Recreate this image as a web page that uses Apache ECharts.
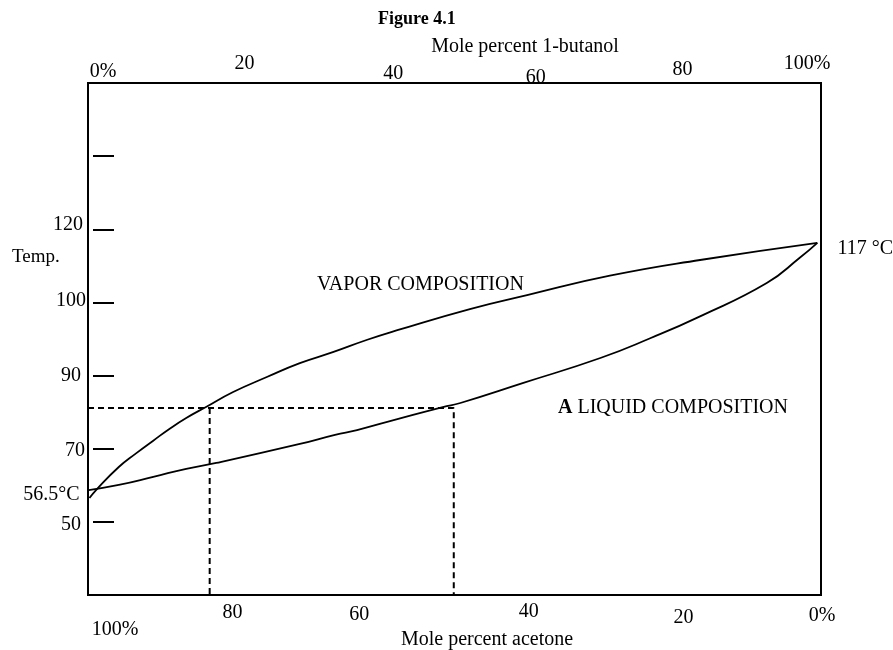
<!DOCTYPE html>
<html>
<head>
<meta charset="utf-8">
<script src="https://cdn.jsdelivr.net/npm/echarts@6.0.0/dist/echarts.min.js"></script>
<style>
html, body { margin: 0; padding: 0; background: #fff; }
#chart { width: 893px; height: 650px; }
</style>
</head>
<body>
<div id="chart"></div>
<script>
// ---------- data ----------
const butanolTicks = [0, 20, 40, 60, 80, 100];
const butanolTickLabels = ['0%', '20', '40', '60', '80', '100%'];
const acetoneTicks = [100, 80, 60, 40, 20, 0];
const acetoneTickLabels = ['100%', '80', '60', '40', '20', '0%'];
const tempTickValues = [50, 70, 90, 100, 120];
const tempTickLabels = ['50', '70', '90', '100', '120'];

// vapor composition curve (mole % 1-butanol, °C)
const vaporButanol = [0.2, 1.1, 4.2, 6.6, 8.9, 11.1, 13.4, 16.1, 19.8, 24.4, 28.9, 33.4, 38.1, 42.2, 52.1, 59.9, 71.2, 83.5, 99.5];
const vaporTemp    = [56.5, 58.7, 65.0, 68.8, 72.2, 75.4, 78.4, 81.4, 85.5, 89.6, 91.7, 93.2, 94.9, 96.2, 99.1, 102.0, 107.3, 111.6, 116.3];

// liquid composition curve (mole % 1-butanol, °C)
const liquidButanol = [0.1, 4.2, 8.9, 13.4, 17.5, 28.9, 33.7, 36.7, 42.2, 48.4, 50.8, 59.4, 69.9, 76.7, 83.5, 92.6, 97.1, 99.5];
const liquidTemp    = [58.7, 60.1, 62.3, 64.5, 66.1, 71.3, 73.8, 75.1, 78.1, 81.4, 82.5, 88.0, 92.4, 95.1, 98.1, 105.3, 112.2, 116.3];

// boiling points of the pure components
const boilingButanol = [0, 100];
const boilingTemp = [56.5, 117];
const boilingLabels = ['56.5°C', '117 °C'];

// dashed tie line
const tieTemp = 81.1;
const tieVaporButanol = 16.6;
const tieLiquidButanol = 49.9;

// ---------- temperature scale: evenly spaced ticks, uneven labels ----------
const tempTickLevels = tempTickValues.map((_, i) => i + 1);   // tick positions 1..5
const extraTickLevel = tempTickValues.length + 1;              // unlabeled tick above 120
const LEVEL_MIN = 0, LEVEL_MAX = tempTickValues.length + 2;
function tempToLevel(t) {
  const v = tempTickValues;
  let i = 0;
  while (i < v.length - 2 && t > v[i + 1]) i++;
  return tempTickLevels[i] + (t - v[i]) / (v[i + 1] - v[i]);
}

const FONT = 'Liberation Serif';
const FS = 20;

function richSet(prefix, pads) {
  const r = {};
  pads.forEach((p, i) => {
    r[prefix + i] = { fontFamily: FONT, fontSize: FS, color: '#000', lineHeight: 20, padding: p };
  });
  return r;
}

// label nudges (hand-lettered figure)
const bottomRich = richSet('b', [[42,0,0,54],[8,4,0,0],[12,44,0,0],[6,0,0,2],[18,0,0,18],[14,0,0,2]]);
const topRich = richSet('t', [[0,0,12,30],[0,0,28,20],[0,0,8,24],[0,0,0,16],[0,0,16,16],[0,28,28,0]]);
const yRich = richSet('y', [[5,5,0,0],[5,1,0,0],[0,5,0,0],[0,0,4,0],[0,3,10,0]]);

const chart = echarts.init(document.getElementById('chart'), null, { renderer: 'canvas' });

const gridBox = { top: 83, bottom: 55, right: 72 };

const option = {
  animation: false,
  backgroundColor: '#fff',
  title: {
    text: 'Figure 4.1',
    left: 373, top: 5,
    textStyle: { fontFamily: FONT, fontSize: 18, fontWeight: 'bold', color: '#000' }
  },
  grid: [
    {
      left: 88, right: gridBox.right, top: gridBox.top, bottom: gridBox.bottom,
      outerBoundsMode: 'none', containLabel: false,
      show: true, borderColor: '#000', borderWidth: 2, backgroundColor: 'transparent'
    },
    {
      left: 93, right: gridBox.right, top: gridBox.top, bottom: gridBox.bottom,
      outerBoundsMode: 'none', containLabel: false, show: false
    }
  ],
  xAxis: [
    {
      type: 'value', gridIndex: 0, position: 'bottom', min: 0, max: 100, inverse: true,
      axisLine: { show: false }, axisTick: { show: false }, splitLine: { show: false },
      axisLabel: {
        customValues: acetoneTicks, margin: 4,
        formatter: v => { const i = acetoneTicks.indexOf(v); return '{b' + i + '|' + acetoneTickLabels[i] + '}'; },
        rich: bottomRich
      },
      name: 'Mole percent acetone', nameLocation: 'middle', nameGap: 35, nameMoveOverlap: false,
      nameTextStyle: { fontFamily: FONT, fontSize: FS, color: '#000', padding: [0, 0, 0, 65] }
    },
    {
      type: 'value', gridIndex: 0, position: 'top', min: 0, max: 100,
      axisLine: { show: false }, axisTick: { show: false }, splitLine: { show: false },
      axisLabel: {
        customValues: butanolTicks, margin: -5,
        formatter: v => { const i = butanolTicks.indexOf(v); return '{t' + i + '|' + butanolTickLabels[i] + '}'; },
        rich: topRich
      },
      name: 'Mole percent 1-butanol', nameLocation: 'middle', nameGap: 26, nameMoveOverlap: false,
      nameTextStyle: { fontFamily: FONT, fontSize: FS, color: '#000', padding: [0, 0, 0, 141] }
    },
    {
      type: 'value', gridIndex: 1, min: 0, max: 1, show: false
    }
  ],
  yAxis: [
    {
      type: 'value', gridIndex: 0, min: LEVEL_MIN, max: LEVEL_MAX, interval: 1,
      axisLine: { show: false }, splitLine: { show: false }, axisTick: { show: false },
      axisLabel: {
        customValues: tempTickLevels, margin: 2,
        formatter: v => { const i = tempTickLevels.indexOf(v); return '{y' + i + '|' + tempTickLabels[i] + '}'; },
        rich: yRich
      }
    },
    {
      // temperature tick marks, drawn a little inside the frame as in the figure
      type: 'value', gridIndex: 1, position: 'left', min: LEVEL_MIN, max: LEVEL_MAX, interval: 1,
      axisLine: { show: false }, splitLine: { show: false }, axisLabel: { show: false },
      axisTick: {
        show: true, inside: true, length: 21,
        customValues: tempTickLevels.concat([extraTickLevel]),
        lineStyle: { color: '#000', width: 2 }
      }
    }
  ],
  graphic: [
    { type: 'text', left: 12, top: 248, style: { text: 'Temp.', fontFamily: FONT, fontSize: 19, fill: '#000' } },
    { type: 'text', left: 317, top: 275, style: { text: 'VAPOR COMPOSITION', fontFamily: FONT, fontSize: FS, fill: '#000' } },
    { type: 'text', left: 558, top: 398, style: {
        text: '{a|A} LIQUID COMPOSITION', fontFamily: FONT, fontSize: FS, fill: '#000',
        rich: { a: { fontFamily: FONT, fontSize: FS, fontWeight: 'bold', fill: '#000' } }
    } }
  ],
  series: [
    {
      name: 'Vapor composition', type: 'line', xAxisIndex: 1, yAxisIndex: 0,
      data: vaporButanol.map((b, i) => [b, tempToLevel(vaporTemp[i])]),
      showSymbol: false, smooth: 0.5,
      lineStyle: { color: '#000', width: 1.8 }, z: 3
    },
    {
      name: 'Liquid composition', type: 'line', xAxisIndex: 1, yAxisIndex: 0,
      data: liquidButanol.map((b, i) => [b, tempToLevel(liquidTemp[i])]),
      showSymbol: false, smooth: 0.5,
      lineStyle: { color: '#000', width: 1.8 }, z: 3
    },
    {
      name: 'Tie line (liquid side)', type: 'line', xAxisIndex: 1, yAxisIndex: 0,
      data: [[0, tempToLevel(tieTemp)], [tieLiquidButanol, tempToLevel(tieTemp)], [tieLiquidButanol, LEVEL_MIN]],
      showSymbol: false, lineStyle: { color: '#000', width: 2, type: [6, 4] }, z: 2
    },
    {
      name: 'Tie line (vapor side)', type: 'line', xAxisIndex: 1, yAxisIndex: 0,
      data: [[tieVaporButanol, tempToLevel(tieTemp)], [tieVaporButanol, LEVEL_MIN]],
      showSymbol: false, lineStyle: { color: '#000', width: 2, type: [6, 4] }, z: 2
    },
    {
      name: 'Boiling points', type: 'scatter', xAxisIndex: 1, yAxisIndex: 0,
      symbolSize: 1, itemStyle: { color: '#000' },
      data: boilingButanol.map((b, i) => ({
        value: [b, tempToLevel(boilingTemp[i])],
        label: i === 0
          ? { show: true, position: 'left', distance: 8, offset: [0, -3] }
          : { show: true, position: 'right', distance: 16, offset: [0, 8] }
      })),
      label: {
        fontFamily: FONT, fontSize: FS, color: '#000', opacity: 1,
        formatter: p => boilingLabels[p.dataIndex]
      },
      z: 4
    }
  ]
};
chart.setOption(option);
</script>
</body>
</html>
